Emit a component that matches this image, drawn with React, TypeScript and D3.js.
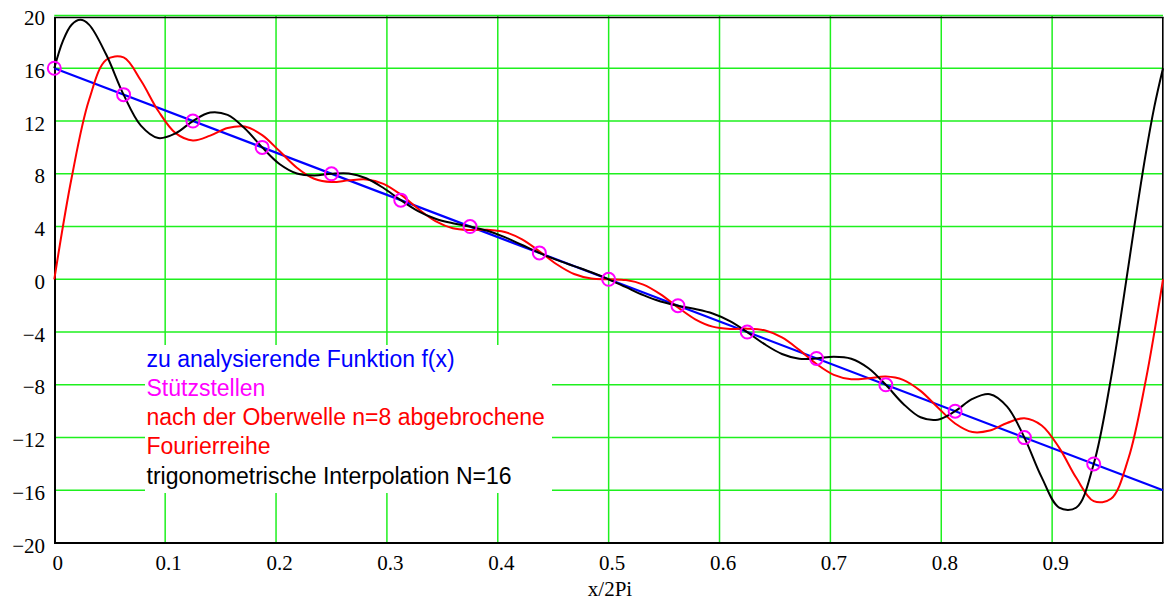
import { useEffect, useRef } from 'react';
import * as d3 from 'd3';

// x ticks and labels (x/2Pi)
const xTicks = [0, 0.1, 0.2, 0.3, 0.4, 0.5, 0.6, 0.7, 0.8, 0.9];
const xTickLabels = ['0', '0.1', '0.2', '0.3', '0.4', '0.5', '0.6', '0.7', '0.8', '0.9'];
const yTicks = [-20, -16, -12, -8, -4, 0, 4, 8, 12, 16, 20];
const yTickLabels = ['\u221220', '\u221216', '\u221212', '\u22128', '\u22124', '0', '4', '8', '12', '16', '20'];

// zu analysierende Funktion f(x)
const funcX = [0, 1];
const funcY = [16, -16];

// Stützstellen
const nodeX = [0, 0.0625, 0.125, 0.1875, 0.25, 0.3125, 0.375, 0.4375, 0.5, 0.5625, 0.625, 0.6875, 0.75, 0.8125, 0.875, 0.9375];
const nodeY = [16, 14, 12, 10, 8, 6, 4, 2, 0, -2, -4, -6, -8, -10, -12, -14];

// Fourierreihe bis n=8
const fourierX = [
  0, 0.0156, 0.0313, 0.0469, 0.0625, 0.0781, 0.0938, 0.1094, 0.125, 0.1406, 0.1563, 0.1719, 0.1875,
  0.2031, 0.2188, 0.2344, 0.25, 0.2656, 0.2813, 0.2969, 0.3125, 0.3281, 0.3438, 0.3594, 0.375,
  0.3906, 0.4063, 0.4219, 0.4375, 0.4531, 0.4688, 0.4844, 0.5, 0.5156, 0.5313, 0.5469, 0.5625,
  0.5781, 0.5938, 0.6094, 0.625, 0.6406, 0.6563, 0.6719, 0.6875, 0.7031, 0.7188, 0.7344, 0.75,
  0.7656, 0.7813, 0.7969, 0.8125, 0.8281, 0.8438, 0.8594, 0.875, 0.8906, 0.9063, 0.9219, 0.9375,
  0.9531, 0.9688, 0.9844, 1,
];
const fourierY = [
  0, 7.68, 13.59, 16.64, 16.82, 15.07, 12.76, 11.08, 10.53, 10.89, 11.47, 11.58, 10.93,
  9.72, 8.46, 7.62, 7.37, 7.5, 7.57, 7.24, 6.42, 5.35, 4.41, 3.87, 3.74,
  3.76, 3.59, 3.03, 2.13, 1.14, 0.4, 0.06, 0, -0.06, -0.4, -1.14, -2.13,
  -3.03, -3.59, -3.76, -3.74, -3.87, -4.41, -5.35, -6.42, -7.24, -7.57, -7.5, -7.37,
  -7.62, -8.46, -9.72, -10.93, -11.58, -11.47, -10.89, -10.53, -11.08, -12.76, -15.07, -16.82,
  -16.64, -13.59, -7.68, 0,
];

// trigonometrische Interpolation N=16
const interpX = [
  0, 0.0078, 0.0156, 0.0234, 0.0313, 0.0469, 0.0625, 0.0781, 0.0938, 0.1094, 0.125, 0.1406, 0.1563,
  0.1719, 0.1875, 0.2031, 0.2188, 0.2344, 0.25, 0.2656, 0.2813, 0.2969, 0.3125, 0.3281, 0.3438,
  0.3594, 0.375, 0.3906, 0.4063, 0.4219, 0.4375, 0.4531, 0.4688, 0.4844, 0.5, 0.5156, 0.5313,
  0.5469, 0.5625, 0.5781, 0.5938, 0.6094, 0.625, 0.6406, 0.6563, 0.6719, 0.6875, 0.7031, 0.7188,
  0.7344, 0.75, 0.7656, 0.7813, 0.7969, 0.8125, 0.8281, 0.8438, 0.8594, 0.875, 0.8906, 0.9063,
  0.9219, 0.9375, 0.9531, 0.9688, 0.9766, 0.9844, 0.9922, 1,
];
const interpY = [
  16, 18.08, 19.3, 19.67, 19.31, 17.02, 14, 11.65, 10.71, 11.07, 12, 12.64, 12.46,
  11.43, 10, 8.74, 8.02, 7.87, 8, 8.02, 7.66, 6.92, 6, 5.17, 4.59,
  4.25, 4, 3.68, 3.2, 2.6, 2, 1.47, 1, 0.53, 0, -0.6, -1.2,
  -1.68, -2, -2.25, -2.59, -3.17, -4, -4.92, -5.66, -6.02, -6, -5.87, -6.02,
  -6.74, -8, -9.43, -10.46, -10.64, -10, -9.07, -8.71, -9.65, -12, -15.02, -17.31,
  -17.3, -14, -7.49, 1, 5.38, 9.49, 13.09, 16,
];

const legendLines = [
  { text: 'zu analysierende Funktion f(x)', color: '#0000ff' },
  { text: 'Stützstellen', color: '#ff00ff' },
  { text: 'nach der Oberwelle n=8 abgebrochene', color: '#ff0000' },
  { text: 'Fourierreihe', color: '#ff0000' },
  { text: 'trigonometrische Interpolation N=16', color: '#000000' },
];

function FourierChart() {
  const svgRef = useRef(null);

  useEffect(() => {
    const svg = d3.select(svgRef.current);
    svg.selectAll('*').remove();

    const x = d3.scaleLinear().domain([0, 1]).range([54.3, 1163]);
    const y = d3.scaleLinear().domain([-20, 20]).range([543.1, 15.5]);
    const grid = '#1ef01e';

    // grid
    svg.append('g')
      .selectAll('line')
      .data(xTicks.slice(1))
      .enter()
      .append('line')
      .attr('x1', (d) => x(d)).attr('x2', (d) => x(d))
      .attr('y1', y(20)).attr('y2', y(-20))
      .attr('stroke', grid).attr('stroke-width', 1.5);
    svg.append('g')
      .selectAll('line')
      .data(yTicks.filter((d) => d > -20))
      .enter()
      .append('line')
      .attr('x1', x(0)).attr('x2', x(1))
      .attr('y1', (d) => y(d)).attr('y2', (d) => y(d))
      .attr('stroke', grid).attr('stroke-width', 1.5);

    // frame
    const frame = svg.append('g').attr('stroke', '#000');
    frame.append('line').attr('x1', 55).attr('x2', 55).attr('y1', 17).attr('y2', 544).attr('stroke-width', 2);
    frame.append('line').attr('x1', 54).attr('x2', 1163.5).attr('y1', 543).attr('y2', 543).attr('stroke-width', 2);
    frame.append('line').attr('x1', 1162.8).attr('x2', 1162.8).attr('y1', 17).attr('y2', 543).attr('stroke-width', 1.6);
    frame.append('line').attr('x1', 54).attr('x2', 1163.5).attr('y1', 17.4).attr('y2', 17.4).attr('stroke-width', 1.5);

    // tick labels
    svg.append('g')
      .selectAll('text')
      .data(xTicks)
      .enter()
      .append('text')
      .attr('x', (d) => x(d) + 3.5)
      .attr('y', 570)
      .attr('text-anchor', 'middle')
      .attr('font-family', '"Liberation Serif", "Times New Roman", serif')
      .attr('font-size', 21)
      .text((d, i) => xTickLabels[i]);
    svg.append('g')
      .selectAll('text')
      .data(yTicks)
      .enter()
      .append('text')
      .attr('x', 45)
      .attr('y', (d) => y(d) + 9.5)
      .attr('text-anchor', 'end')
      .attr('font-family', '"Liberation Serif", "Times New Roman", serif')
      .attr('font-size', 21)
      .text((d, i) => yTickLabels[i]);
    svg.append('text')
      .attr('x', 610)
      .attr('y', 595.5)
      .attr('text-anchor', 'middle')
      .attr('font-family', '"Liberation Serif", "Times New Roman", serif')
      .attr('font-size', 21)
      .text('x/2Pi');

    // legend
    svg.append('rect')
      .attr('x', 145).attr('y', 345).attr('width', 407).attr('height', 148)
      .attr('fill', '#fff');
    svg.append('g')
      .selectAll('text')
      .data(legendLines)
      .enter()
      .append('text')
      .attr('x', 146.5)
      .attr('y', (d, i) => 366.5 + i * 29.3)
      .attr('font-family', '"Liberation Sans", Arial, sans-serif')
      .attr('font-size', 23)
      .attr('fill', (d) => d.color)
      .text((d) => d.text);

    // curves
    const line = d3.line().x((d) => x(d[0])).y((d) => y(d[1]));
    const smooth = d3.line().x((d) => x(d[0])).y((d) => y(d[1])).curve(d3.curveCatmullRom.alpha(0.5));

    svg.append('path')
      .attr('d', line(funcX.map((v, i) => [v, funcY[i]])))
      .attr('fill', 'none').attr('stroke', '#0000ff').attr('stroke-width', 2.2);
    svg.append('path')
      .attr('d', smooth(fourierX.map((v, i) => [v, fourierY[i]])))
      .attr('fill', 'none').attr('stroke', '#ff0000').attr('stroke-width', 2);
    svg.append('path')
      .attr('d', smooth(interpX.map((v, i) => [v, interpY[i]])))
      .attr('fill', 'none').attr('stroke', '#000').attr('stroke-width', 2);

    svg.append('g')
      .selectAll('circle')
      .data(nodeX)
      .enter()
      .append('circle')
      .attr('cx', (d) => x(d))
      .attr('cy', (d, i) => y(nodeY[i]))
      .attr('r', 6.5)
      .attr('fill', 'none')
      .attr('stroke', '#ff00ff')
      .attr('stroke-width', 2);
  }, []);

  return (
    <svg
      ref={svgRef}
      width="1164"
      height="601"
      style={{ position: 'absolute', left: 0, top: 0, background: '#fff' }}
    />
  );
}

export default function App() {
  return <FourierChart />;
}
